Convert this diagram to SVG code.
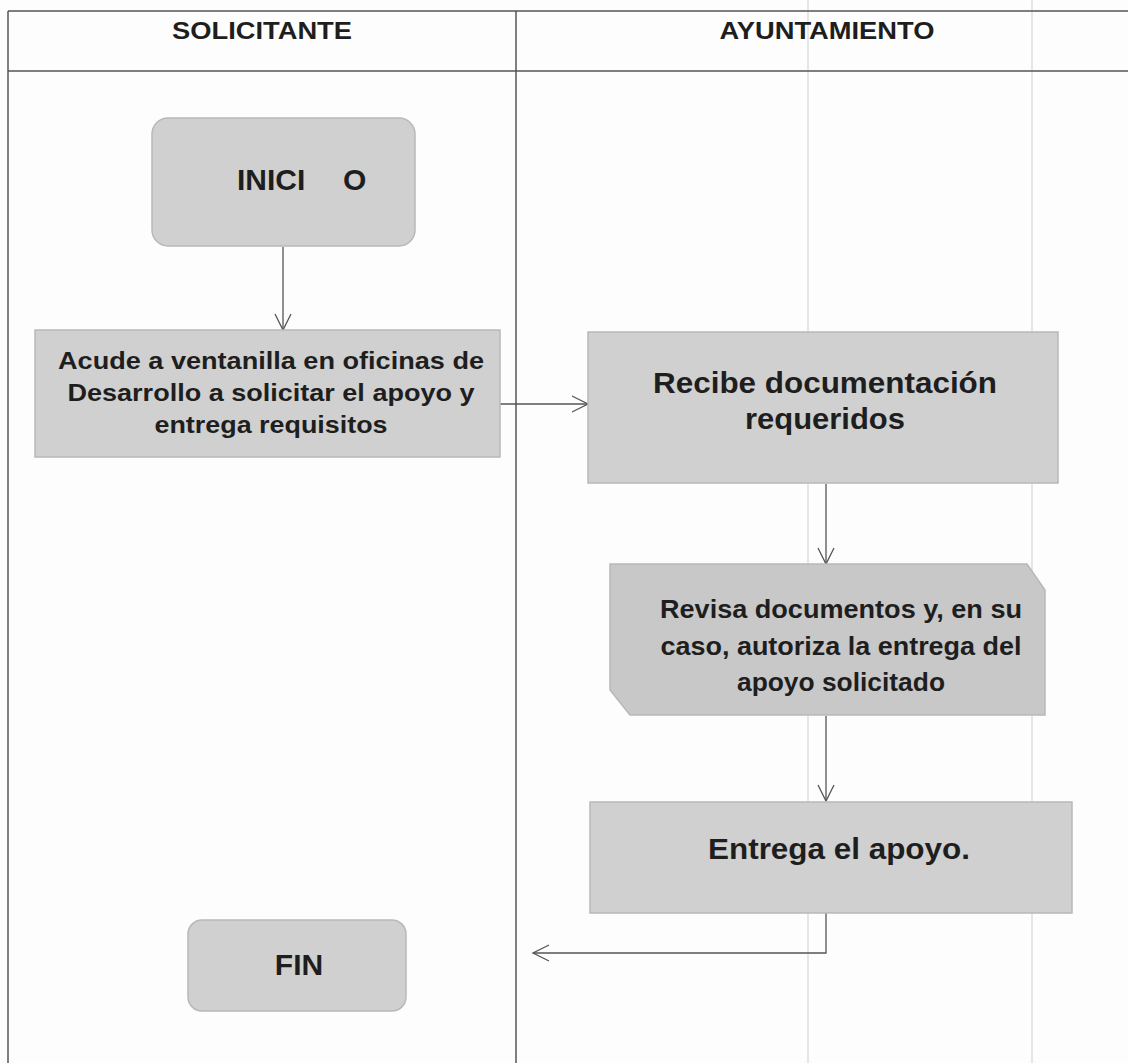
<svg xmlns="http://www.w3.org/2000/svg" width="1128" height="1063" viewBox="0 0 1128 1063">
<defs>
<style>
.lane{stroke:#555;stroke-width:1.5;fill:none}
.faint{stroke:#cfcfcf;stroke-width:1;fill:none}
.box{fill:#d0d0d0;stroke:#b8b8b8;stroke-width:1.5}
.t{font-family:"Liberation Sans",Arial,sans-serif;font-weight:bold;fill:#1e1e1e;text-anchor:middle}
.h{font-size:23px}
.m{font-size:24px}
.r{font-size:25px}
.l{font-size:30px}
.conn{stroke:#555;stroke-width:1.3;fill:none}
</style>
<marker id="arr" viewBox="0 0 20 20" refX="18" refY="10" markerWidth="20" markerHeight="20" markerUnits="userSpaceOnUse" orient="auto">
<path d="M2,2 L18,10 L2,18" fill="none" stroke="#555" stroke-width="1.3"/>
</marker>
</defs>
<rect width="1128" height="1063" fill="#fdfdfd"/>
<g id="lanes">
<line class="faint" x1="808" y1="0" x2="808" y2="1063"/>
<line class="faint" x1="1032" y1="0" x2="1032" y2="1063"/>
<line class="lane" x1="8" y1="11" x2="1128" y2="11"/>
<line class="lane" x1="8" y1="71" x2="1128" y2="71"/>
<line class="lane" x1="8" y1="11" x2="8" y2="1063"/>
<line class="lane" x1="516" y1="11" x2="516" y2="1063"/>
<text class="t h" x="262" y="39" textLength="180" lengthAdjust="spacingAndGlyphs">SOLICITANTE</text>
<text class="t h" x="827" y="39" textLength="215" lengthAdjust="spacingAndGlyphs">AYUNTAMIENTO</text>
</g>
<g id="connectors">
<line class="conn" x1="283" y1="247" x2="283" y2="330" marker-end="url(#arr)"/>
<line class="conn" x1="500" y1="404" x2="588" y2="404" marker-end="url(#arr)"/>
<line class="conn" x1="826" y1="484" x2="826" y2="564" marker-end="url(#arr)"/>
<line class="conn" x1="826" y1="716" x2="826" y2="801" marker-end="url(#arr)"/>
<polyline class="conn" points="826,913 826,953 533,953" marker-end="url(#arr)"/>
</g>
<g id="inicio">
<rect class="box" x="152" y="118" width="263" height="128" rx="16"/>
<text class="t l" x="237" y="190" style="text-anchor:start">INICI<tspan x="343">O</tspan></text>
</g>
<g id="acude">
<rect class="box" x="35" y="330" width="465" height="127"/>
<text class="t m" x="271" y="369" textLength="426" lengthAdjust="spacingAndGlyphs">Acude a ventanilla en oficinas de</text>
<text class="t m" x="271" y="401" textLength="407" lengthAdjust="spacingAndGlyphs">Desarrollo a solicitar el apoyo y</text>
<text class="t m" x="271" y="433" textLength="233" lengthAdjust="spacingAndGlyphs">entrega requisitos</text>
</g>
<g id="recibe">
<rect class="box" x="588" y="332" width="470" height="151"/>
<text class="t l" x="825" y="393" textLength="344" lengthAdjust="spacingAndGlyphs">Recibe documentación</text>
<text class="t l" x="825" y="429" textLength="160" lengthAdjust="spacingAndGlyphs">requeridos</text>
</g>
<g id="revisa">
<path class="box" d="M610,564 L1027,564 L1045,590 L1045,715 L630,715 L610,690 Z" style="fill:#c8c8c8"/>
<text class="t r" x="841" y="618" textLength="362" lengthAdjust="spacingAndGlyphs">Revisa documentos y, en su</text>
<text class="t r" x="841" y="655" textLength="361" lengthAdjust="spacingAndGlyphs">caso, autoriza la entrega del</text>
<text class="t r" x="841" y="691" textLength="208" lengthAdjust="spacingAndGlyphs">apoyo solicitado</text>
</g>
<g id="entrega">
<rect class="box" x="590" y="802" width="482" height="111"/>
<text class="t l" x="839" y="859" textLength="262" lengthAdjust="spacingAndGlyphs">Entrega el apoyo.</text>
</g>
<g id="fin">
<rect class="box" x="188" y="920" width="218" height="91" rx="14"/>
<text class="t l" x="299" y="975">FIN</text>
</g>
</svg>
